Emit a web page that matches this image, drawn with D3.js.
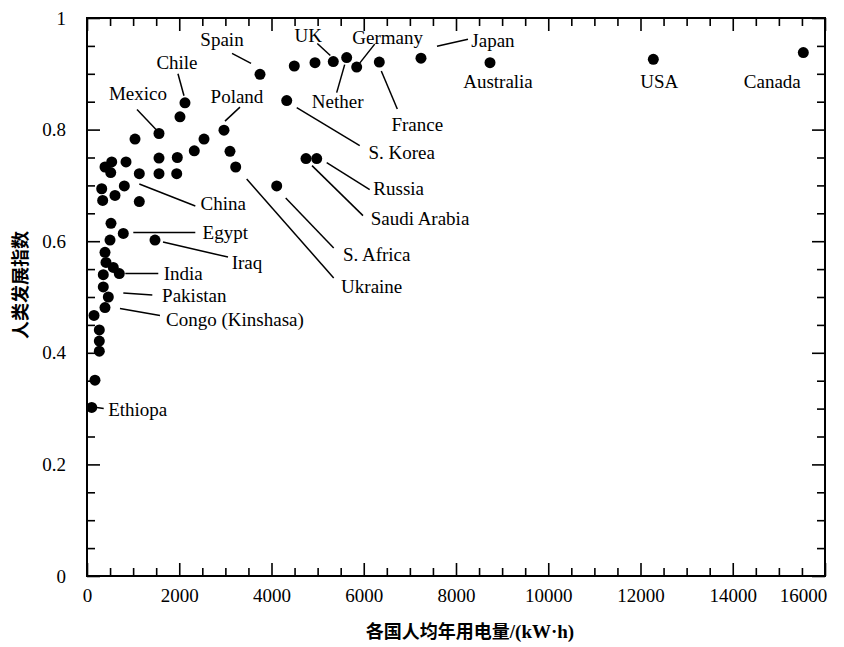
<!DOCTYPE html>
<html>
<head>
<meta charset="utf-8">
<script src="https://cdn.jsdelivr.net/npm/d3@7/dist/d3.min.js"></script>
<style>
  html, body { margin: 0; padding: 0; background: #fff; }
  svg { display: block; }
</style>
</head>
<body>
<svg id="chart" width="844" height="647"></svg>
<script>
// ---------- data ----------
const countries = [
  "Ethiopa", "", "", "", "", "", "Congo (Kinshasa)", "Pakistan", "", "",
  "India", "", "", "", "", "Iraq", "Egypt", "", "", "",
  "", "", "China", "", "", "", "", "", "", "",
  "", "", "", "", "", "Mexico", "Poland", "", "Ukraine", "",
  "Chile", "S. Africa", "Saudi Arabia", "Russia", "S. Korea", "Spain", "", "", "UK", "Nether",
  "Germany", "France", "Japan", "Australia", "USA", "Canada"
];
const electricity = [
  102, 173, 267, 267, 267, 152, 390, 462, 353, 353,
  700, 570, 412, 390, 499, 1474, 787, 520, 340, 1134,
  607, 319, 809, 514, 1134, 1561, 1945, 390, 536, 846,
  1561, 1958, 2326, 2537, 1041, 1561, 2970, 3100, 3224, 2016,
  2124, 4113, 4748, 4980, 4330, 3751, 4494, 4943, 5340, 5630,
  5847, 6337, 7241, 8737, 12278, 15530
];
const hdi = [
  0.302, 0.351, 0.403, 0.421, 0.441, 0.467, 0.481, 0.500, 0.518, 0.540,
  0.542, 0.553, 0.562, 0.580, 0.602, 0.602, 0.614, 0.632, 0.673, 0.671,
  0.682, 0.694, 0.699, 0.723, 0.721, 0.721, 0.721, 0.733, 0.742, 0.742,
  0.749, 0.750, 0.762, 0.783, 0.783, 0.793, 0.799, 0.761, 0.733, 0.823,
  0.848, 0.699, 0.748, 0.748, 0.852, 0.899, 0.914, 0.920, 0.922, 0.929,
  0.912, 0.921, 0.928, 0.920, 0.926, 0.938
];
const xTicks = [0, 2000, 4000, 6000, 8000, 10000, 12000, 14000, 16000];
const yTicks = [0, 0.2, 0.4, 0.6, 0.8, 1];
const xTitleCJK = "各国人均年用电量";
const xTitleUnit = "/(kW·h)";
const yTitle = "人类发展指数";

// ---------- label layout (pixel offsets from the point) ----------
const labelLayout = {
  "Spain":            { t: [-38, -35], l: [-28, -21, -9, -11] },
  "Chile":            { t: [-8, -40],  l: [-7, -29, -1, -7] },
  "Mexico":           { t: [-21, -40], l: [-22, -24, -3, -4] },
  "Poland":           { t: [13, -34],  l: [16, -23, 1, -9] },
  "S. Korea":         { t: [115, 52],  l: [10, 7, 73, 45] },
  "UK":               { t: [-25, -26], l: [-16, -18, -3, -6] },
  "Nether":           { t: [-9, 44],   l: [-10, 35, -2, 7] },
  "Germany":          { t: [31, -30],  l: [18, -23, 3, -4] },
  "France":           { t: [38, 62],   l: [18, 47, 2, 9] },
  "Japan":            { t: [72, -18],  l: [16, -12, 47, -19] },
  "Australia":        { t: [8, 19] },
  "USA":              { t: [6, 22] },
  "Canada":           { t: [-31, 29] },
  "Russia":           { t: [82, 30],   l: [10, 4, 53, 31] },
  "Saudi Arabia":     { t: [114, 60],  l: [6, 7, 57, 57] },
  "S. Africa":        { t: [100, 68],  l: [9, 12, 57, 62] },
  "Ukraine":          { t: [136, 119], l: [11, 12, 98, 111] },
  "China":            { t: [99, 17],   l: [15, -2, 71, 20] },
  "Egypt":            { t: [102, -1],  l: [10, -1, 72, -1] },
  "Iraq":             { t: [92, 22],   l: [8, 2, 73, 17] },
  "India":            { t: [64, 0],    l: [6, 0, 39, 0] },
  "Pakistan":         { t: [86, -2],   l: [15, -4, 44, -2] },
  "Congo (Kinshasa)": { t: [130, 12],  l: [15, 1, 55, 8] },
  "Ethiopa":          { t: [46, 2],    l: [5, 0, 12, 1] }
};

// ---------- chart ----------
const svg = d3.select("#chart");
const mLeft = 87, mRight = 825, mTop = 18, mBottom = 576;
const serif = "'Liberation Serif', 'Times New Roman', serif";
const cjk = "'Noto Sans CJK SC', sans-serif";

const x = d3.scaleLinear().domain([0, 16000]).range([mLeft, mRight]);
const y = d3.scaleLinear().domain([0, 1]).range([mBottom, mTop]);

const xMinor = d3.range(0, 16001, 500).filter(v => v % 2000 !== 0);
const yMinor = d3.range(0, 21).map(i => i * 0.05).filter(v => Math.round(v * 100) % 20 !== 0);

function styleAxis(g) {
  g.select(".domain").remove();
  g.selectAll(".tick line").attr("stroke", "#000").attr("stroke-width", 1.6);
  g.selectAll(".tick text").attr("font-family", serif).attr("font-size", 19).attr("fill", "#000");
}

const MAJ = 13, MIN = 8;
// bottom
const gB = svg.append("g").attr("transform", `translate(0,${mBottom})`)
  .call(d3.axisBottom(x).tickValues(xTicks).tickSizeInner(-MAJ).tickSizeOuter(0).tickPadding(13).tickFormat(d3.format("d")))
  .call(styleAxis);
// keep the last label inside the page, as in the reference
gB.selectAll(".tick text").filter(d => d === 16000).attr("x", -22);
svg.append("g").attr("transform", `translate(0,${mBottom})`)
  .call(d3.axisBottom(x).tickValues(xMinor).tickSizeInner(-MIN).tickSizeOuter(0).tickFormat(""))
  .call(styleAxis);
// top
svg.append("g").attr("transform", `translate(0,${mTop})`)
  .call(d3.axisTop(x).tickValues(xTicks).tickSizeInner(-MAJ).tickSizeOuter(0).tickFormat(""))
  .call(styleAxis);
svg.append("g").attr("transform", `translate(0,${mTop})`)
  .call(d3.axisTop(x).tickValues(xMinor).tickSizeInner(-MIN).tickSizeOuter(0).tickFormat(""))
  .call(styleAxis);
// left
svg.append("g").attr("transform", `translate(${mLeft},0)`)
  .call(d3.axisLeft(y).tickValues(yTicks).tickSizeInner(-MAJ).tickSizeOuter(0).tickPadding(MAJ + 8).tickFormat(d => d === 0 || d === 1 ? d3.format("d")(d) : d3.format(".1f")(d)))
  .call(styleAxis);
svg.append("g").attr("transform", `translate(${mLeft},0)`)
  .call(d3.axisLeft(y).tickValues(yMinor).tickSizeInner(-MIN).tickSizeOuter(0).tickFormat(""))
  .call(styleAxis);
// right
svg.append("g").attr("transform", `translate(${mRight},0)`)
  .call(d3.axisRight(y).tickValues(yTicks).tickSizeInner(-MAJ).tickSizeOuter(0).tickFormat(""))
  .call(styleAxis);
svg.append("g").attr("transform", `translate(${mRight},0)`)
  .call(d3.axisRight(y).tickValues(yMinor).tickSizeInner(-MIN).tickSizeOuter(0).tickFormat(""))
  .call(styleAxis);

// frame
svg.append("rect")
  .attr("x", mLeft).attr("y", mTop)
  .attr("width", mRight - mLeft).attr("height", mBottom - mTop)
  .attr("fill", "none").attr("stroke", "#000").attr("stroke-width", 2);

// axis titles
const xt = svg.append("text")
  .attr("x", 470).attr("y", 638)
  .attr("text-anchor", "middle")
  .attr("font-weight", "bold").attr("font-size", 18);
xt.append("tspan").attr("font-family", cjk).text(xTitleCJK);
xt.append("tspan").attr("font-family", serif).attr("font-size", 19).text(xTitleUnit);
svg.append("text")
  .attr("transform", "translate(27,285) rotate(-90)")
  .attr("text-anchor", "middle")
  .attr("font-family", cjk).attr("font-weight", "bold").attr("font-size", 18)
  .text(yTitle);

// points
const data = countries.map((c, i) => ({ name: c, e: electricity[i], h: hdi[i] }));
svg.append("g").selectAll("circle").data(data).join("circle")
  .attr("cx", d => x(d.e)).attr("cy", d => y(d.h))
  .attr("r", 5.5).attr("fill", "#000");

// labels and leader lines
const labeled = data.filter(d => d.name && labelLayout[d.name]);
const ann = svg.append("g");
labeled.forEach(d => {
  const L = labelLayout[d.name];
  const px = x(d.e), py = y(d.h);
  if (L.l) {
    ann.append("line")
      .attr("x1", px + L.l[0]).attr("y1", py + L.l[1])
      .attr("x2", px + L.l[2]).attr("y2", py + L.l[3])
      .attr("stroke", "#000").attr("stroke-width", 1.5);
  }
  ann.append("text")
    .attr("x", px + L.t[0]).attr("y", py + L.t[1])
    .attr("dy", "0.35em")
    .attr("text-anchor", "middle")
    .attr("font-family", serif).attr("font-size", 19)
    .text(d.name);
});
</script>
</body>
</html>
